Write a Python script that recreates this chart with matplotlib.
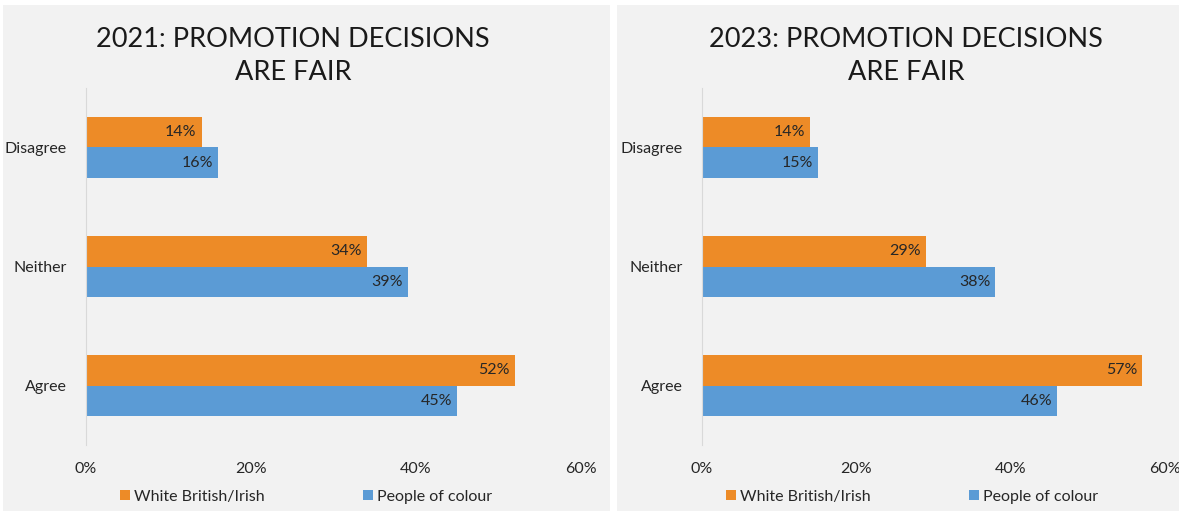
import matplotlib.pyplot as plt
from matplotlib.patches import Rectangle
from matplotlib.ticker import PercentFormatter

categories = ["Agree", "Neither", "Disagree"]
white_2021 = [52, 34, 14]
poc_2021 = [45, 39, 16]
white_2023 = [57, 29, 14]
poc_2023 = [46, 38, 15]
x_ticks = [0, 20, 40, 60]

ORANGE = "#ED8B27"
BLUE = "#5B9BD5"
PANEL = "#F2F2F2"
TEXT = "#262626"

plt.rcParams["font.family"] = ["Lato", "DejaVu Sans"]

fig = plt.figure(figsize=(11.79, 5.11), dpi=100, facecolor="white")
W, H = 1179, 511

# grey card behind each chart
for x0, x1 in [(3, 610), (617, 1179)]:
    fig.add_artist(Rectangle((x0 / W, 0), (x1 - x0) / W, 1 - 5 / H,
                             transform=fig.transFigure, facecolor=PANEL,
                             edgecolor="none", zorder=0))


def draw(left_px, right_px, title_x, legend_x, white, poc, title):
    ax = fig.add_axes([left_px / W, 1 - 445 / H, (right_px - left_px) / W, 357 / H])
    ax.set_facecolor("none")
    pos = range(len(categories))
    h = 0.26
    ob = ax.barh([p + h / 2 for p in pos], white, height=h, color=ORANGE,
                 label="White British/Irish")
    bb = ax.barh([p - h / 2 for p in pos], poc, height=h, color=BLUE,
                 label="People of colour")
    for bars, vals in [(ob, white), (bb, poc)]:
        for b, v in zip(bars, vals):
            ax.text(v - 0.6, b.get_y() + b.get_height() / 2, f"{v}%",
                    ha="right", va="center", fontsize=11.5, color=TEXT)
    ax.set_xlim(0, 60)
    ax.set_ylim(-0.5, 2.5)
    ax.set_xticks(x_ticks)
    ax.xaxis.set_major_formatter(PercentFormatter(decimals=0))
    ax.set_yticks(list(pos))
    ax.set_yticklabels(categories)
    ax.tick_params(length=0, labelsize=11.5, labelcolor=TEXT)
    ax.tick_params(axis="x", pad=12)
    ax.tick_params(axis="y", pad=14)
    for s in ["top", "right", "bottom"]:
        ax.spines[s].set_visible(False)
    ax.spines["left"].set_color("#D9D9D9")
    fig.text(title_x / W, 1 - 56 / H, title, ha="center", va="center",
             fontsize=19.5, fontweight="normal", color="#1a1a1a", linespacing=1.4)
    ax.legend(loc="center", bbox_to_anchor=(legend_x / W, 1 - 497 / H),
              bbox_transform=fig.transFigure, ncol=2, frameon=False,
              handlelength=0.6, handleheight=0.6, handletextpad=0.25,
              columnspacing=6.2, fontsize=11.5, labelcolor=TEXT)


draw(86, 581, 293, 306, white_2021, poc_2021, "2021: PROMOTION DECISIONS\nARE FAIR")
draw(702, 1165, 906, 912, white_2023, poc_2023, "2023: PROMOTION DECISIONS\nARE FAIR")

fig.savefig("out.png", dpi=100, facecolor="white")
